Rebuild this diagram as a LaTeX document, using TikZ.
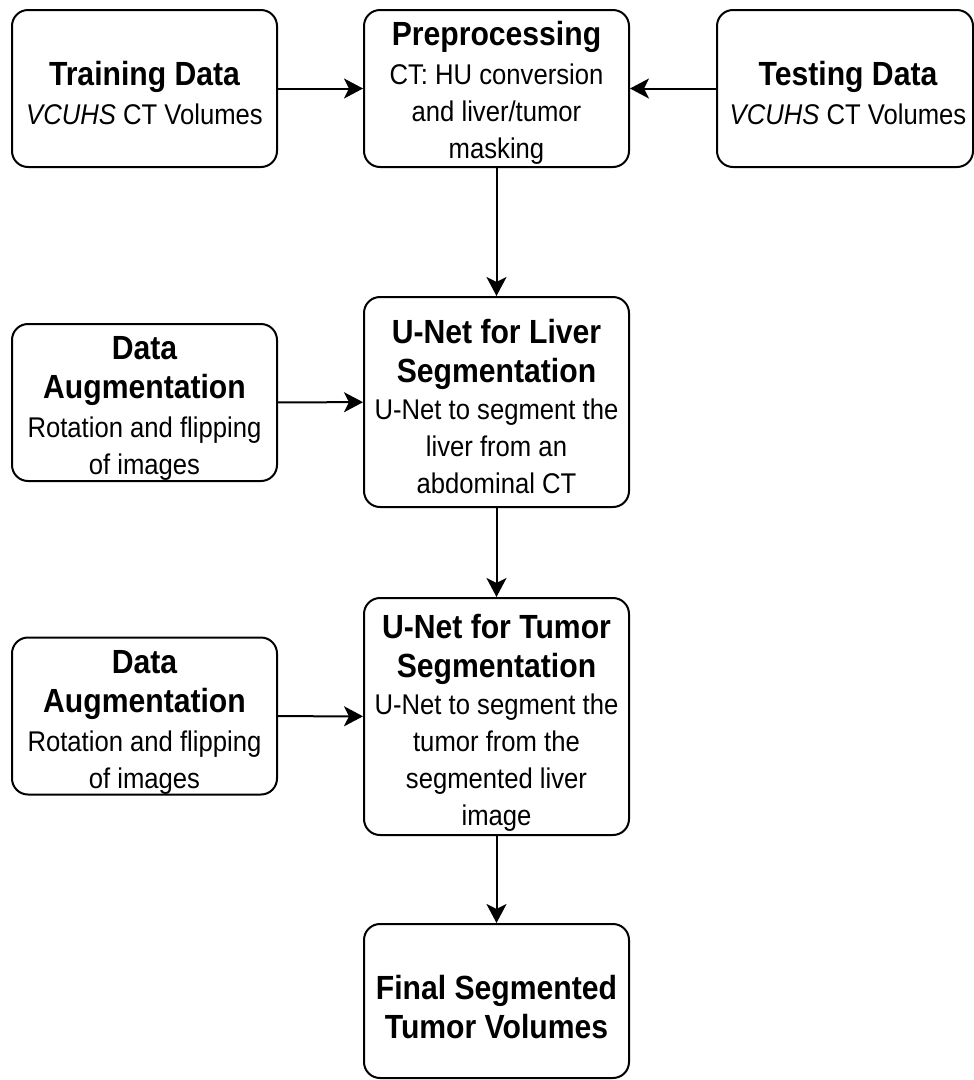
\documentclass[tikz,border=0pt]{standalone}
\usepackage{fontspec}
\setmainfont[FakeStretch=0.9]{Liberation Sans}
\usetikzlibrary{arrows.meta}
\newcommand\boxhead[1]{{\fontsize{33.5}{41}\selectfont\bfseries #1}}
\tikzset{
  stage/.style={draw, line width=2pt, rounded corners=16pt, fill=white,
    minimum width=265pt, minimum height=157pt, inner sep=0pt},
  caption/.style={inner sep=0pt, align=center,
    font=\fontsize{28.5}{37}\selectfont},
  flow/.style={line width=2pt, -{Stealth[length=19pt,width=20pt,inset=5pt]}}
}
\begin{document}
\begin{tikzpicture}[x=1pt,y=-1pt]
\useasboundingbox (0,0) rectangle (974,1080);
% boxes
\node[stage] (train) at (144.5,88.5) {};
\node[stage] (prep) at (496.5,88.5) {};
\node[stage, minimum width=256pt] (test) at (845,88.5) {};
\node[stage] (aug1) at (144.5,402.5) {};
\node[stage, minimum height=210pt] (liver) at (496.5,402) {};
\node[stage] (aug2) at (144.5,716) {};
\node[stage, minimum height=237pt] (tumor) at (496.5,716.5) {};
\node[stage, minimum height=154pt] (final) at (496.5,1001) {};
% box texts, set a little below each centre
\node[caption] (train text) at ([yshift=-4pt]train.center) {\boxhead{Training Data}\\[2pt] \textit{VCUHS} CT Volumes};
\node[caption] (prep text) at ([yshift=-4pt]prep.center) {\boxhead{Preprocessing}\\[2pt] CT: HU conversion\\ and liver/tumor\\ masking};
\node[caption] (test text) at ([xshift=3pt,yshift=-4pt]test.center) {\boxhead{Testing Data}\\[2pt] \textit{VCUHS} CT Volumes};
\node[caption] (aug1 text) at ([yshift=-6pt]aug1.center) {\boxhead{Data}\\[2pt] \boxhead{Augmentation}\\[2pt] Rotation and flipping\\ of images};
\node[caption] (liver text) at ([yshift=-4pt]liver.center) {\boxhead{U-Net for Liver}\\[2pt] \boxhead{Segmentation}\\ U-Net to segment the\\ liver from an\\ abdominal CT};
\node[caption] (aug2 text) at ([yshift=-6pt]aug2.center) {\boxhead{Data}\\[2pt] \boxhead{Augmentation}\\[2pt] Rotation and flipping\\ of images};
\node[caption] (tumor text) at ([yshift=-6pt]tumor.center) {\boxhead{U-Net for Tumor}\\[2pt] \boxhead{Segmentation}\\ U-Net to segment the\\ tumor from the\\ segmented liver\\ image};
\node[caption] (final text) at ([yshift=-6pt]final.center) {\boxhead{Final Segmented}\\[2pt] \boxhead{Tumor Volumes}};
% connectors
\draw[flow] (train) -- (prep);
\draw[flow] (test) -- (prep);
\draw[flow] (prep) -- (liver);
\draw[flow] (aug1) -- (liver);
\draw[flow] (liver) -- (tumor);
\draw[flow] (aug2) -- (tumor);
\draw[flow] (tumor) -- (final);
\end{tikzpicture}
\end{document}
